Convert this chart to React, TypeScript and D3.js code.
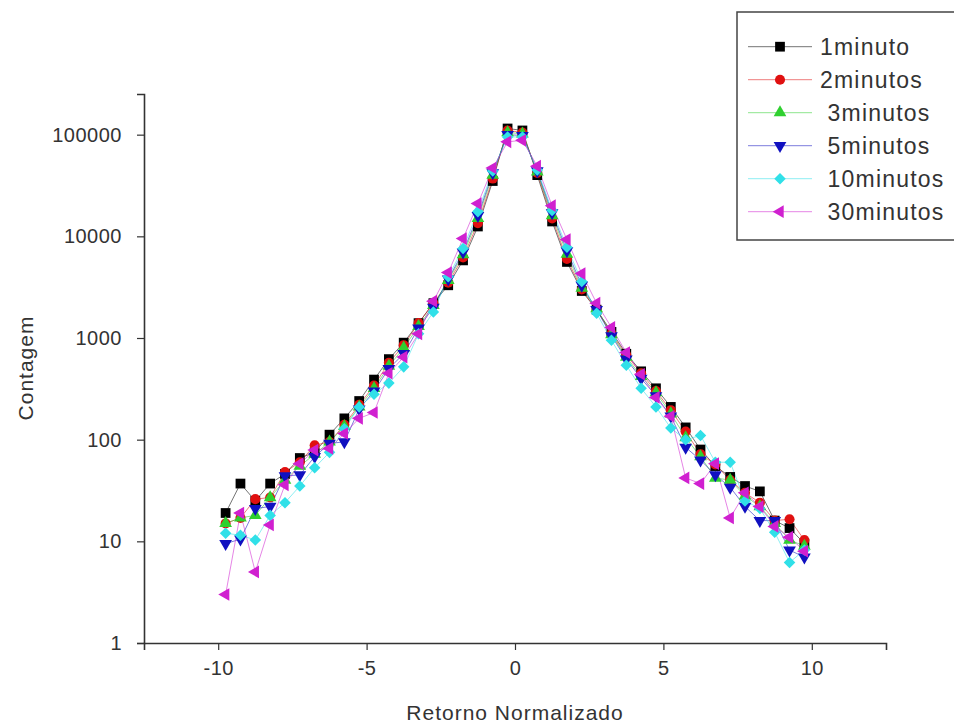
import { useEffect, useRef } from 'react';
import * as d3 from 'd3';

// retorno normalizado (centros dos bins)
const retorno = [
  -9.75, -9.25, -8.75, -8.25, -7.75, -7.25, -6.75, -6.25, -5.75, -5.25,
  -4.75, -4.25, -3.75, -3.25, -2.75, -2.25, -1.75, -1.25, -0.75, -0.25,
  0.25, 0.75, 1.25, 1.75, 2.25, 2.75, 3.25, 3.75, 4.25, 4.75,
  5.25, 5.75, 6.25, 6.75, 7.25, 7.75, 8.25, 8.75, 9.25, 9.75,
];

const min1 = [19, 37, 25, 37, 46, 66, 75, 112, 162, 240, 390, 620, 900, 1400, 2200, 3300, 5800, 12500, 35000, 115000, 110000, 40000, 14000, 5600, 2900, 1900, 1150, 700, 470, 320, 210, 132, 80, 55, 43, 35, 31, 16, 13.5, 9.5];
const min2 = [15, 17, 26, 27, 48, 60, 88, 95, 140, 220, 340, 570, 850, 1400, 2200, 3500, 6200, 13500, 37000, 110000, 105000, 42000, 15000, 6000, 3000, 1900, 1100, 680, 450, 300, 195, 120, 72, 57, 40, 30, 24, 16, 16.5, 10.3];
const min3 = [15, 17, 18, 27, 40, 55, 72, 95, 135, 210, 320, 530, 800, 1300, 2100, 3700, 6600, 15000, 40000, 105000, 102000, 43000, 16000, 6700, 3100, 1950, 1080, 650, 420, 290, 180, 105, 68, 42, 40, 28, 22, 15, 10.3, 9];
const min5 = [9.5, 10.5, 21, 22, 44, 45, 68, 92, 95, 200, 300, 500, 700, 1250, 2000, 3800, 7000, 16000, 42000, 100000, 98000, 44000, 17000, 7200, 3300, 1900, 1050, 620, 400, 270, 170, 84, 63, 45, 34, 22, 16, 16, 8.2, 7];
const min10 = [12, 11.5, 10.3, 18, 24, 35, 53, 75, 128, 210, 280, 360, 520, 1100, 1800, 4000, 7600, 17500, 44000, 95000, 95000, 45000, 18000, 7800, 3600, 1750, 950, 540, 320, 210, 130, 100, 110, 60, 60, 25, 21, 12.3, 6.2, 8.2];
const min30 = [3, 19, 5, 14.5, 36, 58, 79, 82, 115, 162, 185, 450, 650, 1100, 2300, 4400, 9500, 21000, 47000, 85000, 88000, 49000, 20000, 9300, 4300, 2200, 1270, 720, 440, 260, 170, 42, 37, 58, 17, 30, 22, 14, 11, 8];

// rótulos da legenda (o Origin guardou um espaço à frente de alguns)
const legendas = ['1minuto', '2minutos', ' 3minutos', ' 5minutos', ' 10minutos', ' 30minutos'];

const yTicks = [1, 10, 100, 1000, 10000, 100000];
const xTicks = [-10, -5, 0, 5, 10];
const xMinor = [-12.5, -7.5, -2.5, 2.5, 7.5, 12.5];

const W = 954;
const H = 727;
const FONT = '"Liberation Sans", Arial, sans-serif';

export default function App() {
  const svgRef = useRef<SVGSVGElement | null>(null);

  useEffect(() => {
    if (!svgRef.current) return;
    const svg = d3.select(svgRef.current);
    svg.selectAll('*').remove();

    const series = [
      { nome: legendas[0], valores: min1, cor: '#000000', simbolo: d3.symbolSquare, tam: 95, rot: 0 },
      { nome: legendas[1], valores: min2, cor: '#e01010', simbolo: d3.symbolCircle, tam: 80, rot: 0 },
      { nome: legendas[2], valores: min3, cor: '#2fd02f', simbolo: d3.symbolTriangle, tam: 70, rot: 0 },
      { nome: legendas[3], valores: min5, cor: '#1010c0', simbolo: d3.symbolTriangle, tam: 70, rot: 180 },
      { nome: legendas[4], valores: min10, cor: '#30e0e8', simbolo: (d3 as any).symbolDiamond2 || d3.symbolDiamond, tam: 85, rot: 0 },
      { nome: legendas[5], valores: min30, cor: '#d020d0', simbolo: d3.symbolTriangle, tam: 70, rot: -90 },
    ];

    const x = d3.scaleLinear().domain([-12.5, 12.5]).range([144, 886]);
    const y = d3.scaleLog().domain([1, Math.pow(10, 5.4)]).range([643, 94]);

    // eixo y
    const minorY: number[] = [];
    for (let dec = 1; dec <= 100000; dec *= 10) {
      for (let k = 2; k <= 9; k++) if (dec * k <= Math.pow(10, 5.4)) minorY.push(dec * k);
    }
    const gy = svg.append('g').attr('transform', 'translate(144,0)');
    gy.call(d3.axisLeft(y).tickValues(minorY).tickSize(4).tickFormat(() => '') as any);
    gy.call(
      d3.axisLeft(y).tickValues(yTicks).tickSize(7).tickPadding(15).tickFormat((d) => String(d)) as any,
    );
    gy.selectAll('.domain').attr('stroke', '#333').attr('stroke-width', 1.6);
    gy.selectAll('line').attr('stroke', '#333').attr('stroke-width', 1.2);
    gy.selectAll('text').attr('font-family', FONT).attr('font-size', 20).attr('fill', '#333').attr('letter-spacing', 0.5);

    // eixo x
    const gx = svg.append('g').attr('transform', 'translate(0,643)');
    gx.call(d3.axisBottom(x).tickValues(xMinor).tickSize(4).tickFormat(() => '') as any);
    gx.call(
      d3.axisBottom(x).tickValues(xTicks).tickSize(7).tickPadding(11).tickFormat((d) => String(d)) as any,
    );
    gx.selectAll('.domain').attr('stroke', '#333').attr('stroke-width', 1.6);
    gx.selectAll('line').attr('stroke', '#333').attr('stroke-width', 1.2);
    gx.selectAll('text').attr('font-family', FONT).attr('font-size', 20).attr('fill', '#333').attr('letter-spacing', 0.5);

    // títulos dos eixos
    svg.append('text')
      .attr('x', 515).attr('y', 720)
      .attr('text-anchor', 'middle')
      .attr('font-family', FONT).attr('font-size', 21).attr('fill', '#333').attr('letter-spacing', 1)
      .text('Retorno Normalizado');
    svg.append('text')
      .attr('transform', 'translate(33,368) rotate(-90)')
      .attr('text-anchor', 'middle')
      .attr('font-family', FONT).attr('font-size', 21).attr('fill', '#333').attr('letter-spacing', 1)
      .text('Contagem');

    // linhas e marcadores
    const line = d3.line<number>()
      .x((_, i) => x(retorno[i]))
      .y((v) => y(v));

    series.forEach((s) => {
      svg.append('path')
        .datum(s.valores)
        .attr('fill', 'none')
        .attr('stroke', s.cor)
        .attr('stroke-opacity', 0.55)
        .attr('stroke-width', 1)
        .attr('d', line);
    });
    series.forEach((s) => {
      const sym = d3.symbol().type(s.simbolo).size(s.tam);
      svg.append('g')
        .selectAll('path')
        .data(s.valores)
        .join('path')
        .attr('transform', (v, i) => `translate(${x(retorno[i])},${y(v)}) rotate(${s.rot})`)
        .attr('fill', s.cor)
        .attr('d', sym() as string);
    });

    // legenda
    const leg = svg.append('g');
    leg.append('rect')
      .attr('x', 737).attr('y', 12).attr('width', 240).attr('height', 228)
      .attr('fill', 'white').attr('stroke', '#444').attr('stroke-width', 1.5);
    series.forEach((s, i) => {
      const cy = 46.7 + i * 33;
      leg.append('line')
        .attr('x1', 748).attr('x2', 812).attr('y1', cy).attr('y2', cy)
        .attr('stroke', s.cor).attr('stroke-opacity', 0.55).attr('stroke-width', 1);
      leg.append('path')
        .attr('transform', `translate(780,${cy}) rotate(${s.rot})`)
        .attr('fill', s.cor)
        .attr('d', d3.symbol().type(s.simbolo).size(s.tam)() as string);
      leg.append('text')
        .attr('x', 820).attr('y', cy + 8)
        .attr('font-family', FONT).attr('font-size', 23).attr('fill', '#333').attr('letter-spacing', 1.2)
        .style('white-space', 'pre')
        .text(s.nome);
    });
  }, []);

  return (
    <svg
      ref={svgRef}
      width={W}
      height={H}
      style={{ position: 'absolute', left: 0, top: 0, background: 'white' }}
    />
  );
}
